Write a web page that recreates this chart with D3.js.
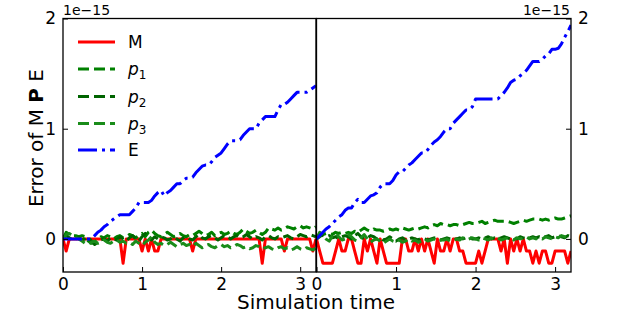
<!DOCTYPE html>
<html>
<head>
<meta charset="utf-8">
<script src="https://cdn.jsdelivr.net/npm/d3@7"></script>
<style>
  body { margin: 0; background: #fff; }
  svg { font-family: "DejaVu Sans", sans-serif; }
</style>
</head>
<body>
<div id="chart"></div>
<script>
// values are in units of 1e-15, sampled every 0.04 time units (81 samples per panel)
var time = d3.range(81).map(function(i) { return i * 0.04; });

var leftM = [0,-0.11,0,0,0,0,0,0,0,0, 0,0,0,0,0,0,0,0,0,-0.22, 0,0,0,0,0,-0.11,0,-0.11,0,-0.11,
  -0.11,0,0,0,0,0,0,0,0,0, 0,-0.11,0,0,0,0,0,0,0,0, 0,0,0,0,0,0,0,0,0,0,
  0,0,0,-0.22,0,0,0,0,0,0, -0.11,0,0,0,0,0,0,0,0,-0.11, 0];
var leftP1 = [0,0.06,0.04,0.03,0.03,0.02,0.03,0.02,-0.02,-0.04, -0.03,0,0.02,0.01,0.03,0.02,0,0.02,0.03,0.01,
  0.02,0.04,0.03,0.01,0.03,0.05,0.02,0.06,0.08,0.05, 0.03,0.02,0.04,0.06,0.04,0.02,0.03,0.05,0.03,0.02,
  0.04,0.03,0.05,0.07,0.05,0.03,0.04,0.06,0.03,0.05, 0.06,0.04,0.05,0.07,0.05,0.04,0.06,0.09,0.07,0.05,
  0.06,0.08,0.06,0.04,0.06,0.1,0.09,0.08,0.1,0.08, 0.09,0.11,0.1,0.09,0.11,0.12,0.1,0.11,0.1,0.09, 0.11];
var leftP2 = [0,0.03,0.01,-0.01,0,0.01,-0.01,0,0.02,-0.02, -0.05,-0.03,-0.01,0,-0.02,0.01,0,-0.01,0.02,0,
  -0.02,0.01,0.03,0,-0.02,0.02,0.05,0.03,-0.01,0.02, 0,0.02,0.01,-0.01,0,0.02,0,-0.02,0.01,0.02,
  0,-0.01,0.02,0.04,0.01,0,0.02,0.03,0.01,-0.01, 0.01,0.03,0.02,0,0.02,0.03,0.01,0.02,0.04,0.02,
  0,0.02,0.01,-0.01,0.02,0.03,0.01,0,0.02,0.01, 0.02,0.03,0.01,0,0.02,0.04,0.03,0.02,0.04,0.03, 0.02];
var leftP3 = [0,0.04,0.05,0.03,0.01,0,-0.02,-0.04,-0.05,-0.03, -0.02,-0.04,-0.03,-0.01,-0.03,-0.04,-0.02,-0.01,-0.03,-0.02,
  -0.04,-0.03,-0.05,-0.02,-0.04,-0.06,-0.03,-0.01,0.02,-0.03, -0.05,-0.04,-0.06,-0.05,-0.03,-0.05,-0.07,-0.05,-0.04,-0.06,
  -0.05,-0.07,-0.04,-0.06,-0.08,-0.06,-0.05,-0.07,-0.08,-0.06, -0.05,-0.07,-0.06,-0.08,-0.07,-0.05,-0.06,-0.08,-0.07,-0.09,
  -0.08,-0.06,-0.07,-0.09,-0.08,-0.07,-0.09,-0.1,-0.08,-0.07, -0.09,-0.08,-0.1,-0.09,-0.07,-0.09,-0.1,-0.08,-0.09,-0.1, -0.08];
var leftE = [0,0,0,0,0,0,0,0,0,0, 0.03,0.06,0.08,0.11,0.13,0.16,0.18,0.2,0.22,0.22,
  0.22,0.22,0.25,0.28,0.33,0.33,0.33,0.33,0.35,0.39, 0.42,0.44,0.39,0.42,0.44,0.47,0.5,0.5,0.53,0.55,
  0.55,0.56,0.6,0.63,0.66,0.67,0.67,0.7,0.74,0.76, 0.78,0.82,0.86,0.89,0.89,0.89,0.9,0.94,0.97,1.0,
  1.0,1.0,1.05,1.08,1.11,1.11,1.11,1.11,1.17,1.22, 1.22,1.24,1.27,1.3,1.33,1.33,1.33,1.33,1.35,1.37, 1.39];

var rightM = [0,-0.11,-0.22,-0.22,-0.22,-0.22,-0.11,0,-0.11,-0.11, 0,0,-0.11,-0.22,-0.22,0,-0.11,0,-0.11,-0.22,
  0,-0.11,-0.22,-0.22,-0.22,-0.22,-0.22,0,0,-0.11, -0.11,0,-0.11,0,-0.11,0,-0.11,-0.22,0,-0.11,
  -0.11,0,-0.11,0,0,-0.11,-0.11,-0.22,-0.22,-0.22, -0.22,-0.11,-0.22,-0.11,0,0,0,0,-0.11,0,
  -0.22,0,-0.11,0,-0.11,0,-0.11,-0.11,-0.22,-0.11, -0.22,-0.11,-0.11,-0.22,-0.22,-0.11,-0.11,-0.11,-0.11,-0.22, -0.11];
var rightP1 = [0,0.02,0.04,0.05,0.05,0.04,0.06,0.05,0.06,0.05, 0.06,0.05,0.07,0.06,0.08,0.1,0.08,0.07,0.09,0.08,
  0.08,0.07,0.08,0.09,0.08,0.09,0.08,0.1,0.09,0.08, 0.09,0.1,0.09,0.1,0.11,0.1,0.12,0.13,0.12,0.14,
  0.13,0.13,0.12,0.13,0.13,0.12,0.13,0.14,0.15,0.14, 0.14,0.15,0.16,0.14,0.15,0.16,0.17,0.16,0.16,0.16,
  0.16,0.15,0.14,0.15,0.16,0.17,0.16,0.17,0.18,0.18, 0.18,0.17,0.18,0.17,0.18,0.19,0.18,0.18,0.19,0.2, 0.21];
var rightP2 = [0,0.05,0.03,0.02,0.03,0.01,0.02,0,0.02,0.03, 0.02,0,0.03,0.05,0.02,0,0.01,0.03,0.02,0,
  0.01,-0.01,0,0.02,0,-0.02,0,0.01,-0.01,0, 0.01,0,-0.01,0.01,0,-0.01,0,0.01,0,-0.01,
  0,0.01,0,-0.01,0,0.01,0,0.01,0.02,0, 0,0.01,0,0.01,0.02,0,0.01,0,0.01,0.02,
  0.01,0,0.01,0,0.02,0.01,0,0.01,0.02,0.01, 0.02,0.01,0.02,0.03,0.01,0.02,0.03,0.02,0.01,0.03, 0.02];
var rightP3 = [0,0.06,0.04,0,-0.02,0.03,0.05,0.02,-0.01,0, 0.04,0.02,-0.01,-0.02,0.01,0.04,0,-0.03,-0.01,0,
  -0.02,-0.04,-0.02,0,-0.02,-0.03,-0.01,-0.03,-0.02,0, -0.02,-0.01,-0.03,-0.02,0,-0.02,-0.01,0,-0.02,-0.01,
  -0.01,0,-0.02,-0.01,0,-0.01,0.01,-0.01,0,0.01, 0,-0.01,0.01,0,-0.01,0.01,0,0.01,-0.01,0,
  0.01,0,-0.01,0.01,0,0.01,0.02,0,0.01,0, 0.01,0,0.02,0.01,0,0.02,0.01,0.03,0.02,0.01, 0];
var rightE = [0,0.03,0.06,0.09,0.11,0.14,0.17,0.2,0.22,0.26, 0.28,0.28,0.33,0.36,0.33,0.33,0.36,0.39,0.4,0.42,
  0.47,0.5,0.5,0.5,0.53,0.58,0.61,0.61,0.64,0.67, 0.69,0.72,0.75,0.78,0.78,0.81,0.85,0.88,0.9,0.93,
  0.97,1.0,1.0,1.05,1.08,1.11,1.14,1.17,1.17,1.2, 1.27,1.27,1.27,1.27,1.27,1.27,1.27,1.27,1.3,1.33,
  1.37,1.42,1.44,1.45,1.48,1.5,1.53,1.57,1.61,1.61, 1.61,1.63,1.66,1.68,1.72,1.72,1.73,1.77,1.83,1.88, 1.94];

var seriesNames = ["M", "p1", "p2", "p3", "E"];
var xTicks = [0, 1, 2, 3];
var yTicks = [0, 1, 2];

var width = 634, height = 317,
    plotTop = 18.5, plotBottom = 272;

var style = {
  M:  {color: "#ff0000", dash: null},
  p1: {color: "#008000", dash: "11,5"},
  p2: {color: "#006400", dash: "11,5"},
  p3: {color: "#1a8c1a", dash: "11,5"},
  E:  {color: "#0000ff", dash: "19,5,3,5"}
};

var panels = [
  {x0: 63, x1: 316, side: "left", data: {M: leftM, p1: leftP1, p2: leftP2, p3: leftP3, E: leftE}},
  {x0: 316.5, x1: 571, side: "right", data: {M: rightM, p1: rightP1, p2: rightP2, p3: rightP3, E: rightE}}
];

var y = d3.scaleLinear().domain([-0.3, 2]).range([plotBottom, plotTop]);

var svg = d3.select("#chart").append("svg")
    .attr("width", width)
    .attr("height", height);

panels.forEach(function(p, k) {
  var x = d3.scaleLinear().domain([0, 3.2]).range([p.x0, p.x1]);

  svg.append("clipPath").attr("id", "clip" + k)
    .append("rect")
      .attr("x", p.x0).attr("y", plotTop)
      .attr("width", p.x1 - p.x0).attr("height", plotBottom - plotTop);

  var line = d3.line()
      .x(function(d, i) { return x(time[i]); })
      .y(function(d) { return y(d); });

  var g = svg.append("g").attr("clip-path", "url(#clip" + k + ")");
  seriesNames.forEach(function(name) {
    g.append("path")
      .attr("d", line(p.data[name]))
      .attr("fill", "none")
      .attr("stroke", style[name].color)
      .attr("stroke-width", 3)
      .attr("stroke-dasharray", style[name].dash)
      .attr("stroke-linejoin", "round");
  });

  // x axis, ticks pointing in
  var xa = svg.append("g")
      .attr("transform", "translate(0," + plotBottom + ")")
      .call(d3.axisBottom(x).tickValues(xTicks).tickFormat(d3.format("d"))
        .tickSizeInner(-5).tickSizeOuter(0).tickPadding(6));
  xa.select(".domain").remove();
  xa.selectAll("text").attr("font-size", 17).attr("font-family", "DejaVu Sans").attr("fill", "#000");
  xa.selectAll("line").attr("stroke", "#000");

  var ya;
  if (p.side == "left") {
    ya = svg.append("g")
        .attr("transform", "translate(" + p.x0 + ",0)")
        .call(d3.axisLeft(y).tickValues(yTicks).tickFormat(d3.format("d"))
          .tickSizeInner(-5).tickSizeOuter(0).tickPadding(7));
  } else {
    ya = svg.append("g")
        .attr("transform", "translate(" + p.x1 + ",0)")
        .call(d3.axisRight(y).tickValues(yTicks).tickFormat(d3.format("d"))
          .tickSizeInner(-5).tickSizeOuter(0).tickPadding(7));
  }
  ya.select(".domain").remove();
  ya.selectAll("text").attr("font-size", 17).attr("font-family", "DejaVu Sans").attr("fill", "#000");
  ya.selectAll("line").attr("stroke", "#000");

  svg.append("rect")
      .attr("x", p.x0).attr("y", plotTop)
      .attr("width", p.x1 - p.x0).attr("height", plotBottom - plotTop)
      .attr("fill", "none")
      .attr("stroke", "#000")
      .attr("stroke-width", 1.3);

  svg.append("text")
      .attr("x", p.side == "left" ? p.x0 : p.x1 - 1)
      .attr("y", 14.5)
      .attr("text-anchor", p.side == "left" ? "start" : "end")
      .attr("font-size", 14)
      .text("1e\u221215");
});

// axis labels
svg.append("text")
    .attr("x", 316)
    .attr("y", 309)
    .attr("text-anchor", "middle")
    .attr("font-size", 20)
    .text("Simulation time");

var yl = svg.append("text")
    .attr("transform", "translate(43,138) rotate(-90)")
    .attr("text-anchor", "middle")
    .attr("font-size", 20);
yl.append("tspan").text("Error of M ");
yl.append("tspan").attr("font-weight", "bold").text("P");
yl.append("tspan").text(" E");

// legend, no frame
var legendY = [42, 69, 96.5, 123.5, 150];
var legend = svg.selectAll(".legend")
    .data(seriesNames)
  .enter().append("g")
    .attr("class", "legend")
    .attr("transform", function(d, i) { return "translate(0," + legendY[i] + ")"; });

legend.append("line")
    .attr("x1", 78).attr("x2", 115)
    .attr("stroke", function(d) { return style[d].color; })
    .attr("stroke-width", 3)
    .attr("stroke-dasharray", function(d) { return style[d].dash; });

legend.each(function(d) {
  var t = d3.select(this).append("text")
      .attr("x", 128)
      .attr("y", 6)
      .attr("font-size", 17);
  if (d.charAt(0) == "p") {
    t.append("tspan").attr("font-style", "italic").text("p");
    t.append("tspan").attr("font-size", 12).attr("dy", 4).text(d.charAt(1));
  } else {
    t.text(d);
  }
});
</script>
</body>
</html>
